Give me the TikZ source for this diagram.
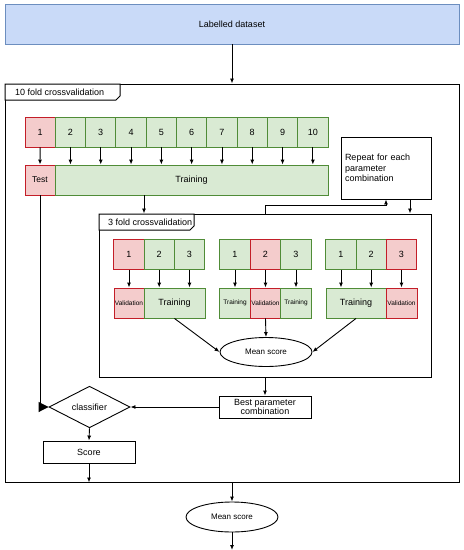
\documentclass[tikz,border=0pt]{standalone}
\usepackage{fontspec}
\setmainfont{Liberation Sans}
\usetikzlibrary{shapes.geometric,arrows.meta,calc}
\definecolor{bfill}{RGB}{201,218,248}
\definecolor{bdraw}{RGB}{108,142,191}
\definecolor{rfill}{RGB}{244,204,204}
\definecolor{rdraw}{RGB}{195,30,40}
\definecolor{gfill}{RGB}{217,234,211}
\definecolor{gdraw}{RGB}{80,140,55}
\tikzset{
  base/.style={draw, line width=0.9pt, inner sep=1pt, font=\fontsize{9}{10.5}\selectfont},
  cellg/.style={base, fill=gfill, draw=gdraw, minimum height=30pt},
  cellr/.style={base, fill=rfill, draw=rdraw, minimum height=30pt},
  small/.style={font=\fontsize{6.5}{7}\selectfont},
  plain/.style={base, fill=white},
  frame/.style={draw, line width=1pt, fill=none},
  arr/.style={-{Latex[length=5pt,width=4pt]}, line width=0.9pt},
}
\begin{document}
\begin{tikzpicture}[x=1pt,y=-1pt]
\useasboundingbox (0,0) rectangle (464,550);
% dataset
\node[base, fill=bfill, draw=bdraw, minimum width=454pt, minimum height=40pt] (data) at (232,24) {Labelled dataset};
% outer frame
\node[frame, minimum width=454pt, minimum height=398pt] (outer) at (232,283) {};
\draw[line width=1pt, fill=white] (5,84) -- (120,84) -- (120,96) -- (116,100) -- (5,100) -- cycle;
\node[anchor=west, font=\fontsize{9}{10.5}\selectfont, inner sep=0pt] (outerlbl) at (15,92) {10 fold crossvalidation};
\draw[arr] (data.south) -- (outer.north);
% folds
\node[cellr, minimum width=30.3pt] (f1) at (40.15,132) {1};
\foreach \i in {2,...,10}{
  \node[cellg, minimum width=30.3pt] (f\i) at ({25+30.3*(\i-0.5)},132) {\i};
}
\node[cellr, minimum width=30pt] (test) at (40,180) {\fontsize{8.5}{9}\selectfont Test};
\node[cellg, minimum width=273pt] (train) at (191.5,180) {Training};
\draw[arr] (f1.south) -- (test.north);
\foreach \i in {2,...,10}{
  \draw[arr] (f\i.south) -- (f\i.south |- train.north);
}
% repeat box
\node[plain, minimum width=90pt, minimum height=62pt, text width=82pt, align=left] (rep) at (386,168) {Repeat for each\\parameter\\combination};
% inner frame
\node[frame, minimum width=332pt, minimum height=163pt] (inner) at (265,295.5) {};
\draw[line width=1pt, fill=white] (99,214) -- (194,214) -- (194,226) -- (190,230) -- (99,230) -- cycle;
\node[anchor=west, font=\fontsize{9}{10.5}\selectfont, inner sep=0pt] (innerlbl) at (108,222) {3 fold crossvalidation};
\draw[arr] (train.south -| 144,0) -- (inner.north -| 144,0);
\draw[arr] (inner.north) -- (265,205) -- (386,205) -- (rep.south);
\draw[arr] (rep.south -| 410,0) -- (inner.north -| 410,0);
% group 1
\node[cellr, minimum width=30.3pt] (a1) at (129,254.5) {1};
\node[cellg, minimum width=30.3pt] (a2) at (159.2,254.5) {2};
\node[cellg, minimum width=30.3pt] (a3) at (189.5,254.5) {3};
\node[cellr, minimum width=30pt, small] (av) at (129,303) {Validation};
\node[cellg, minimum width=61pt] (at) at (174.5,303) {Training};
\draw[arr] (a1.south) -- (av.north);
\draw[arr] (a2.south) -- (a2.south |- at.north);
\draw[arr] (a3.south) -- (a3.south |- at.north);
% group 2
\node[cellg, minimum width=30.3pt] (b1) at (235,254.5) {1};
\node[cellr, minimum width=30.3pt] (b2) at (265.5,254.5) {2};
\node[cellg, minimum width=30.3pt] (b3) at (296,254.5) {3};
\node[cellg, minimum width=30.3pt, small] (bt1) at (235,303) {Training};
\node[cellr, minimum width=30.3pt, small] (bv) at (265.5,303) {Validation};
\node[cellg, minimum width=30.3pt, small] (bt2) at (296,303) {Training};
\draw[arr] (b1.south) -- (bt1.north);
\draw[arr] (b2.south) -- (bv.north);
\draw[arr] (b3.south) -- (bt2.north);
% group 3
\node[cellg, minimum width=30.3pt] (c1) at (341,254.5) {1};
\node[cellg, minimum width=30.3pt] (c2) at (371.2,254.5) {2};
\node[cellr, minimum width=30.3pt] (c3) at (401.5,254.5) {3};
\node[cellg, minimum width=60pt] (ct) at (356,303) {Training};
\node[cellr, minimum width=31pt, small] (cv) at (401.5,303) {Validation};
\draw[arr] (c1.south) -- (c1.south |- ct.north);
\draw[arr] (c2.south) -- (c2.south |- ct.north);
\draw[arr] (c3.south) -- (cv.north);
% inner mean score
\node[plain, ellipse, minimum width=92pt, minimum height=29pt, font=\fontsize{8}{9}\selectfont] (mean1) at (266,352) {Mean score};
\draw[arr] (at.south) -- (mean1.west);
\draw[arr] (bv.south) -- (mean1.north);
\draw[arr] (ct.south) -- (mean1.east);
% best parameter
\node[plain, minimum width=92pt, minimum height=22pt, align=center, inner sep=0.5pt, font=\fontsize{9}{9.8}\selectfont] (best) at (265,407) {Best parameter\\combination};
\draw[arr] (inner.south -| best.north) -- (best.north);
% classifier
\node[plain, diamond, minimum width=81pt, minimum height=32pt, inner sep=0pt] (cls) at (89.5,407) {classifier};
\draw[arr] (best.west) -- (cls.east);
\draw[-{Triangle[length=10pt,width=10pt]}, line width=0.9pt] (test.south) -- (test.south |- cls.west) -- (cls.west);
% score
\node[plain, minimum width=92pt, minimum height=22pt] (score) at (89,452) {Score};
\draw[arr] (cls.south) -- (score.north);
\draw[arr] (score.south) -- (score.south |- outer.south);
% final mean score
\node[plain, ellipse, minimum width=92pt, minimum height=30pt, font=\fontsize{8}{9}\selectfont] (mean2) at (232,517) {Mean score};
\coordinate (endpt) at (232,550);
\draw[arr] (outer.south) -- (mean2.north);
\draw[arr] (mean2.south) -- (endpt);
\end{tikzpicture}
\end{document}
